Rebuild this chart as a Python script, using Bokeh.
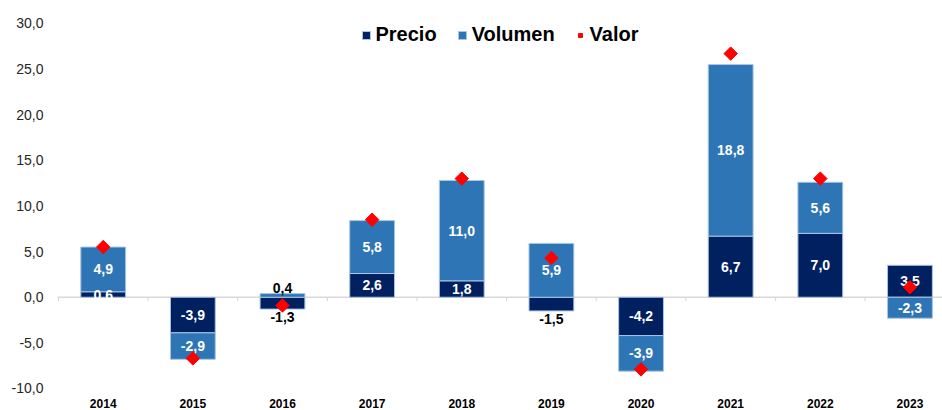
import numpy as np
from bokeh.plotting import figure
from bokeh.models import ColumnDataSource, FixedTicker, Span, Legend, LegendItem, Range1d
from bokeh.core.properties import value
from bokeh.embed import file_html
from bokeh.resources import INLINE

years = ["2014", "2015", "2016", "2017", "2018", "2019", "2020", "2021", "2022", "2023"]
precio = [0.6, -3.9, -1.3, 2.6, 1.8, -1.5, -4.2, 6.7, 7.0, 3.5]
volumen = [4.9, -2.9, 0.4, 5.8, 11.0, 5.9, -3.9, 18.8, 5.6, -2.3]
valor = [5.5, -6.7, -0.9, 8.5, 13.0, 4.3, -7.9, 26.7, 13.0, 1.1]
y_ticks = [-10, -5, 0, 5, 10, 15, 20, 25, 30]

FONT = "Liberation Sans"
C_PRECIO = "#002060"
C_VOLUMEN = "#2E75B6"
C_VALOR = "#FF0000"

n = len(years)
xs = list(range(n))


def fmt(v):
    return f"{v:.1f}".replace(".", ",")


p_bottom = [0.0] * n
p_top = list(precio)
v_bottom = [pp if (pp > 0) == (vv > 0) else 0.0 for pp, vv in zip(precio, volumen)]
v_top = [b + vv for b, vv in zip(v_bottom, volumen)]

src_p = ColumnDataSource(dict(x=xs, bottom=p_bottom, top=p_top))
src_v = ColumnDataSource(dict(x=xs, bottom=v_bottom, top=v_top))
src_val = ColumnDataSource(dict(x=xs, y=valor))

# labels
in_x, in_y, in_t = [], [], []
op_x, op_y, op_t = [], [], []
on_x, on_y, on_t = [], [], []
for i in range(n):
    segs = [
        (p_bottom[i], p_top[i], precio[i], (volumen[i] > 0) != (precio[i] > 0)),
        (v_bottom[i], v_top[i], volumen[i], True),
    ]
    for start, end, val, outer in segs:
        if outer and abs(val) < 2:
            if val > 0:
                op_x.append(i); op_y.append(end); op_t.append(fmt(val))
            else:
                on_x.append(i); on_y.append(end); on_t.append(fmt(val))
        else:
            in_x.append(i); in_y.append((start + end) / 2); in_t.append(fmt(val))

p = figure(width=942, height=410, output_backend="svg", toolbar_location=None,
           x_range=Range1d(-0.51, 9.363), y_range=Range1d(-10.877, 32.52),
           min_border_left=57, min_border_right=0, min_border_top=0, min_border_bottom=0)
p.outline_line_color = None
p.xgrid.visible = False
p.ygrid.visible = False
p.background_fill_color = "white"
p.border_fill_color = "white"

zero = Span(location=0, dimension="width", line_color="#D9D9D9", line_width=1.5, level="underlay")
p.add_layout(zero)
bounds = [i - 0.5 for i in xs]
p.segment(x0=bounds, y0=[0] * n, x1=bounds, y1=[-0.4] * n, line_color="#D9D9D9", line_width=1.2)

r_p = p.vbar(x="x", bottom="bottom", top="top", width=0.5, source=src_p,
             fill_color=C_PRECIO, line_color="#A9C4E4", line_width=1)
r_v = p.vbar(x="x", bottom="bottom", top="top", width=0.5, source=src_v,
             fill_color=C_VOLUMEN, line_color="#A9C4E4", line_width=1)

p.text(x=in_x, y=in_y, text=in_t, text_font=value(FONT), text_font_style="bold",
       text_font_size="14px", text_color="white", text_align="center", text_baseline="middle")
p.text(x=op_x, y=op_y, text=op_t, text_font=value(FONT), text_font_style="bold",
       text_font_size="14px", text_color="black", text_align="center", text_baseline="bottom",
       y_offset=-1)
p.text(x=on_x, y=on_y, text=on_t, text_font=value(FONT), text_font_style="bold",
       text_font_size="14px", text_color="black", text_align="center", text_baseline="top",
       y_offset=3)

r_val = p.scatter(x="x", y="y", source=src_val, marker="square", angle=np.pi / 4,
                  size=9.5, fill_color=C_VALOR, line_color=C_VALOR)

# axes
p.xaxis.ticker = FixedTicker(ticks=xs)
p.xaxis.major_label_overrides = {i: y for i, y in enumerate(years)}
p.xaxis.axis_line_color = None
p.xaxis.major_tick_line_color = None
p.xaxis.minor_tick_line_color = None
p.xaxis.major_tick_out = 0
p.xaxis.major_tick_in = 0
p.xaxis.minor_tick_out = 0
p.xaxis.major_label_standoff = 2
p.xaxis.major_label_text_font = FONT
p.xaxis.major_label_text_font_style = "bold"
p.xaxis.major_label_text_font_size = "12px"
p.xaxis.major_label_text_color = "black"

p.yaxis.ticker = FixedTicker(ticks=y_ticks)
p.yaxis.major_label_overrides = {t: fmt(t) for t in y_ticks}
p.yaxis.axis_line_color = None
p.yaxis.major_tick_line_color = None
p.yaxis.minor_tick_line_color = None
p.yaxis.major_tick_out = 0
p.yaxis.major_tick_in = 0
p.yaxis.minor_tick_out = 0
p.yaxis.major_label_standoff = 14
p.yaxis.major_label_text_font = FONT
p.yaxis.major_label_text_font_size = "14px"
p.yaxis.major_label_text_color = "#262626"

legend = Legend(items=[LegendItem(label="Precio", renderers=[r_p]),
                       LegendItem(label="Volumen", renderers=[r_v]),
                       LegendItem(label="Valor", renderers=[r_val])],
                orientation="horizontal", location="top_center",
                margin=23, padding=0, spacing=20, label_standoff=5,
                glyph_width=10, glyph_height=10,
                label_text_font=FONT, label_text_font_style="bold",
                label_text_font_size="20px", label_text_color="black",
                border_line_color=None, background_fill_alpha=0)
p.add_layout(legend, "center")

open("out.html", "w").write(file_html(p, INLINE))
